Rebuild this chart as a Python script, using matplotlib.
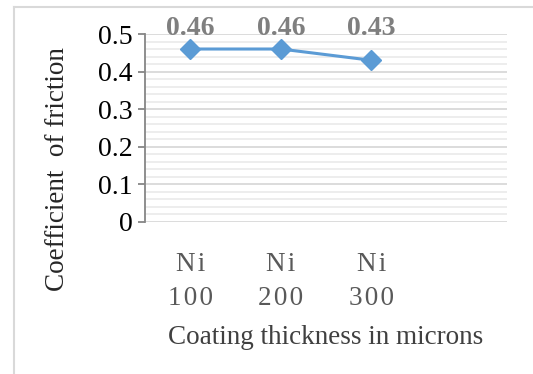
import matplotlib
matplotlib.use("Agg")
import matplotlib.pyplot as plt
from matplotlib.lines import Line2D
import numpy as np

# Data
categories = ["N\u200ai\n1\u200a0\u200a0", "N\u200ai\n2\u200a0\u200a0", "N\u200ai\n3\u200a0\u200a0", ""]
friction = [0.46, 0.46, 0.43]
value_labels = ["0.46", "0.46", "0.43"]
y_ticks = [0, 0.1, 0.2, 0.3, 0.4, 0.5]
y_tick_labels = ["0", "0.1", "0.2", "0.3", "0.4", "0.5"]

W, H = 533, 374
fig = plt.figure(figsize=(W / 100, H / 100), dpi=100)
plt.rcParams["font.family"] = ["Liberation Serif", "DejaVu Serif"]

# Outer chart frame (left and top edges visible)
fig.add_artist(Line2D([14 / W, 14 / W], [0, 1 - 7 / H], transform=fig.transFigure,
                      color="#d9d9d9", lw=1.5))
fig.add_artist(Line2D([14 / W, 1], [1 - 7 / H, 1 - 7 / H], transform=fig.transFigure,
                      color="#d9d9d9", lw=1.5))

left, right = 145 / W, 507 / W
bottom, top = 1 - 221.7 / H, 1 - 34 / H
ax = fig.add_axes([left, bottom, right - left, top - bottom])

x = np.arange(len(friction)) + 0.5
ax.set_xlim(0, len(categories))
ax.set_ylim(0, 0.5)

# Gridlines: minor every 0.02, major every 0.1
minor = [v for v in np.arange(0.02, 0.5, 0.02) if abs(v * 10 - round(v * 10)) > 1e-6]
for v in minor:
    ax.axhline(v, color="#ececec", lw=1.3, zorder=0)
for v in y_ticks:
    ax.axhline(v, color="#d9d9d9", lw=1.3, zorder=0.5)

ax.plot(x, friction, color="#5B9BD5", lw=2.2, marker="D", markersize=10,
        markerfacecolor="#5B9BD5", markeredgecolor="#5B9BD5", zorder=3, clip_on=False)

for xi, lab in zip(x, value_labels):
    ax.text(xi, 0.498, lab, ha="center", va="baseline", fontsize=20, fontweight="bold",
            color="#7f7f7f", clip_on=False, zorder=4)

for s in ["top", "right", "bottom"]:
    ax.spines[s].set_visible(False)
ax.spines["left"].set_color("#868686")
ax.spines["left"].set_linewidth(1.3)

ax.set_yticks(y_ticks)
ax.set_yticklabels(y_tick_labels, fontsize=20, color="#000000")
ax.tick_params(axis="y", length=5, width=1.3, color="#868686", pad=4)

ax.set_xticks(np.arange(len(categories)) + 0.5)
ax.set_xticklabels(categories, fontsize=19.5, color="#595959", linespacing=1.45)
ax.tick_params(axis="x", length=0, pad=22)

fig.text(58 / W, 1 - 169 / H, "Coefficient  of friction", rotation=90, ha="center",
         va="center", fontsize=19.5, color="#262626")
fig.text((left + right) / 2, 1 - 337 / H, "Coating thickness in microns", ha="center",
         va="center", fontsize=19.5, color="#404040")

fig.savefig("out.png", dpi=100)
